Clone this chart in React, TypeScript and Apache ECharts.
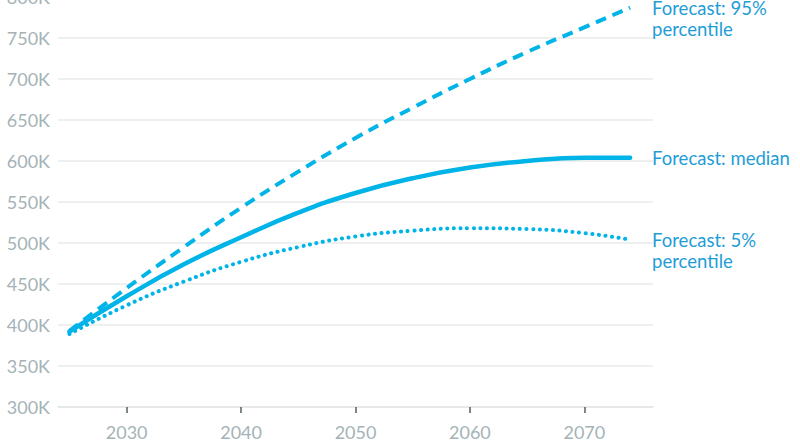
import React, { useEffect, useRef } from 'react';
import * as echarts from 'echarts';

// years the forecast is sampled at
const years = [2025, 2030, 2035, 2040, 2045, 2050, 2055, 2060, 2065, 2070, 2074];

// values in thousands
const p95 = [393, 445, 495, 543, 587, 628, 665, 700, 733, 763, 787];
const median = [392, 435, 474, 507, 537, 561, 579, 592, 600, 604, 604];
const p5 = [389, 424, 453, 477, 495, 508, 515, 518, 517, 512, 504];

const xTicks = [2030, 2040, 2050, 2060, 2070];

const seriesNames = ['Forecast: 95%\npercentile', 'Forecast: median', 'Forecast: 5%\npercentile'];

const LINE = '#00b4e8';
const LABEL = '#1e9dd6';
const AXIS_TEXT = '#a5b3b6';
const FONT = 'Lato, "Noto Sans", sans-serif';

const App: React.FC = () => {
  const chartRef = useRef<HTMLDivElement | null>(null);

  useEffect(() => {
    document.body.style.margin = '0';
    if (!chartRef.current) return;
    const chart = echarts.init(chartRef.current, null, { renderer: 'svg' });

    const pairs = (vals: number[]) => years.map((y, i) => [y, vals[i] * 1000]);

    const endLabel = (text: string, twoLines: boolean) => ({
      show: true,
      formatter: text,
      color: LABEL,
      fontSize: 18.5,
      fontFamily: FONT,
      lineHeight: 21,
      distance: 22,
      offset: [0, twoLines ? 10.5 : 0],
    });

    chart.setOption({
      animation: false,
      grid: { left: 58, right: 147, top: -3, bottom: 38, containLabel: false, outerBoundsMode: 'none' },
      xAxis: {
        type: 'value',
        min: 2024,
        max: 2076,
        splitLine: { show: false },
        axisLine: { show: true, lineStyle: { color: '#e4e6e7', width: 1.5 } },
        axisTick: {
          show: true,
          customValues: xTicks,
          length: 6,
          lineStyle: { color: '#4f5f63', width: 1.5 },
        },
        axisLabel: {
          customValues: xTicks,
          color: AXIS_TEXT,
          fontSize: 18,
          fontFamily: FONT,
          margin: 16,
          formatter: (v: number) => String(v),
        },
      },
      yAxis: {
        type: 'value',
        min: 300000,
        max: 800000,
        interval: 50000,
        axisLine: { show: false },
        axisTick: { show: false },
        splitLine: { lineStyle: { color: '#e8eaea', width: 1.5 } },
        axisLabel: {
          color: AXIS_TEXT,
          fontSize: 18,
          fontFamily: FONT,
          margin: 8,
          formatter: (v: number) => `${v / 1000}K`,
        },
      },
      series: [
        {
          name: seriesNames[0],
          type: 'line',
          data: pairs(p95),
          smooth: true,
          showSymbol: false,
          lineStyle: { color: LINE, width: 4, type: [11, 7] },
          endLabel: endLabel(seriesNames[0], true),
        },
        {
          name: seriesNames[1],
          type: 'line',
          data: pairs(median),
          smooth: true,
          showSymbol: false,
          lineStyle: { color: LINE, width: 4.5, cap: 'round' },
          endLabel: endLabel(seriesNames[1], false),
        },
        {
          name: seriesNames[2],
          type: 'line',
          data: pairs(p5),
          smooth: true,
          showSymbol: false,
          lineStyle: { color: LINE, width: 4, type: [0.1, 6.5], cap: 'round' },
          endLabel: endLabel(seriesNames[2], true),
        },
      ],
    });

    return () => {
      chart.dispose();
    };
  }, []);

  return <div ref={chartRef} style={{ width: '800px', height: '445px' }}></div>;
};

export default App;
